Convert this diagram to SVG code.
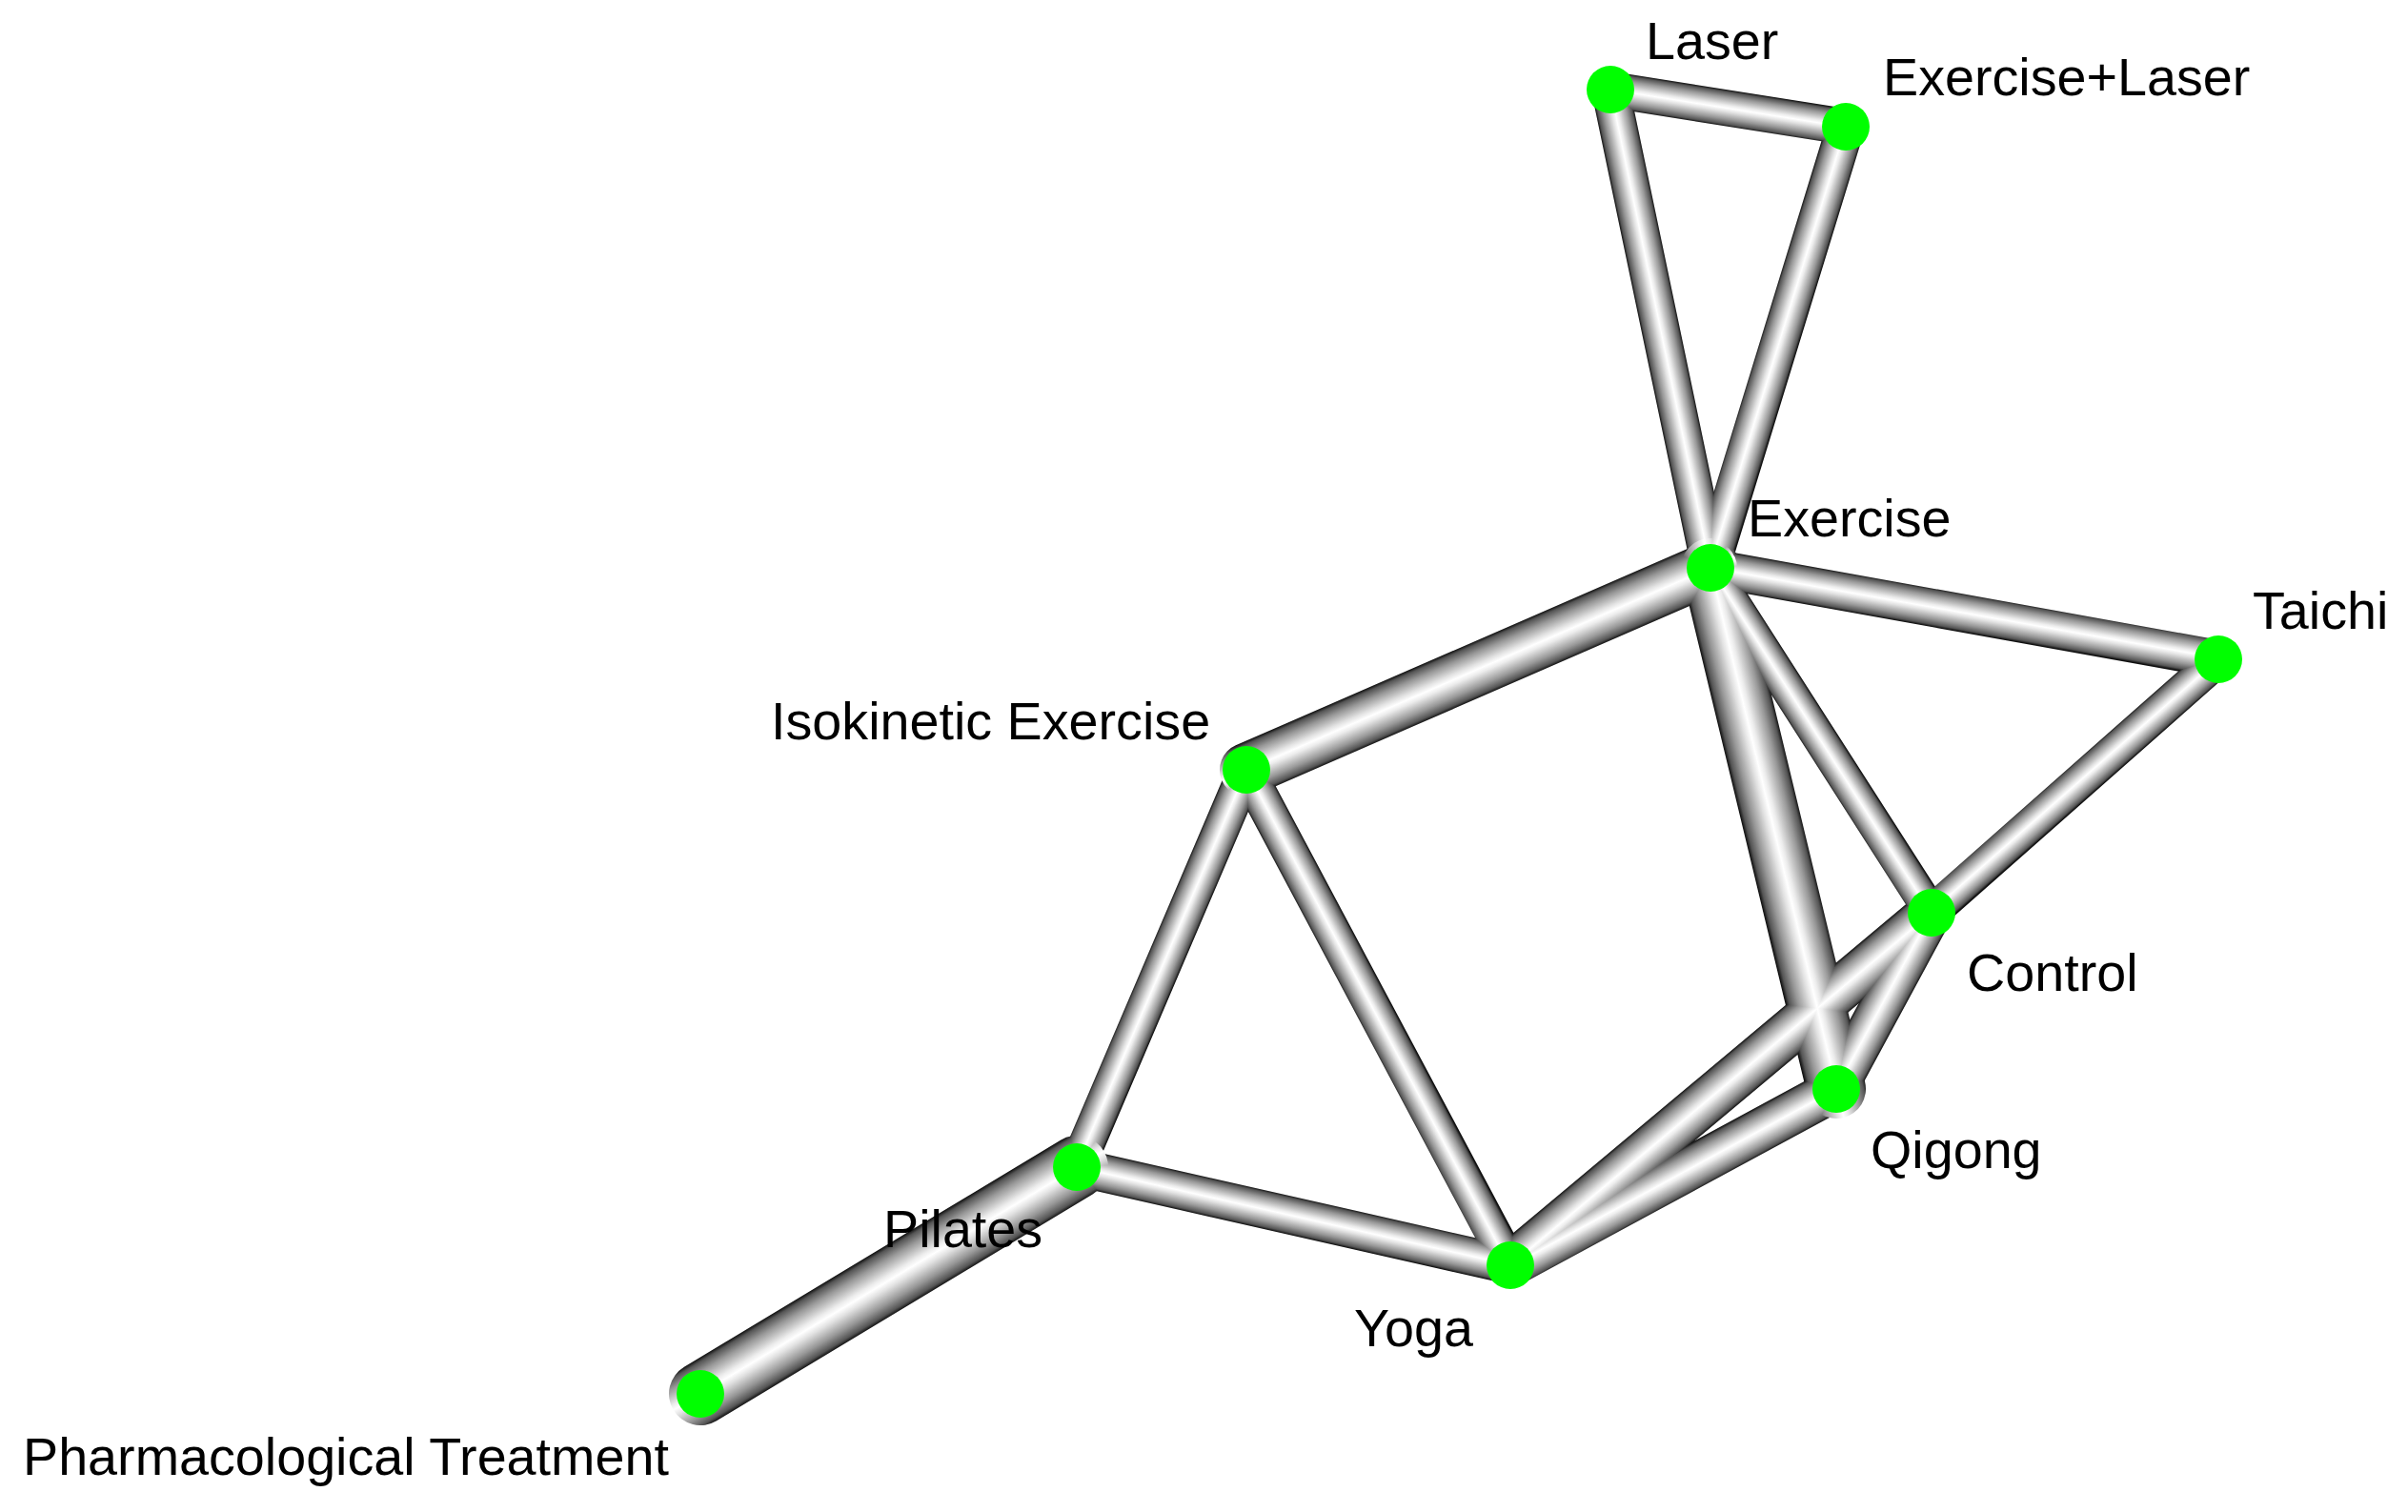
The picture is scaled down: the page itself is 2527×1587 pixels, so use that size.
<svg xmlns="http://www.w3.org/2000/svg" width="2527" height="1587" viewBox="0 0 2527 1587">
<style>
  .edge { fill: none; stroke-linecap: round; mix-blend-mode: lighten; }
  #edges { isolation: isolate; }
  .node circle { fill: #00ff00; }
  .node text { font-family: "Liberation Sans", Arial, sans-serif; font-size: 55.7px; fill: #000; }
</style>
<defs>
  <linearGradient id="tube">
    <stop offset="0" stop-color="#101010"/>
    <stop offset="0.06" stop-color="#555555"/>
    <stop offset="0.2" stop-color="#999999"/>
    <stop offset="0.42" stop-color="#ececec"/>
    <stop offset="0.5" stop-color="#ffffff"/>
    <stop offset="0.6" stop-color="#e2e2e2"/>
    <stop offset="0.8" stop-color="#979797"/>
    <stop offset="0.94" stop-color="#555555"/>
    <stop offset="1" stop-color="#101010"/>
  </linearGradient>
  <linearGradient id="g1" href="#tube" gradientUnits="userSpaceOnUse" x1="1693.0" y1="75.2" x2="1687.0" y2="112.8"/>
  <linearGradient id="g2" href="#tube" gradientUnits="userSpaceOnUse" x1="1709.6" y1="89.9" x2="1670.4" y2="98.1"/>
  <linearGradient id="g3" href="#tube" gradientUnits="userSpaceOnUse" x1="1956.1" y1="138.9" x2="1917.9" y2="127.1"/>
  <linearGradient id="g4" href="#tube" gradientUnits="userSpaceOnUse" x1="1806.2" y1="621.7" x2="1783.8" y2="570.3"/>
  <linearGradient id="g5" href="#tube" gradientUnits="userSpaceOnUse" x1="1798.5" y1="576.3" x2="1791.5" y2="615.7"/>
  <linearGradient id="g6" href="#tube" gradientUnits="userSpaceOnUse" x1="1825.1" y1="588.7" x2="1764.9" y2="603.3"/>
  <linearGradient id="g7" href="#tube" gradientUnits="userSpaceOnUse" x1="1810.2" y1="586.3" x2="1779.8" y2="605.7"/>
  <linearGradient id="g8" href="#tube" gradientUnits="userSpaceOnUse" x1="2340.2" y1="705.9" x2="2315.8" y2="678.1"/>
  <linearGradient id="g9" href="#tube" gradientUnits="userSpaceOnUse" x1="2046.4" y1="968.5" x2="2007.6" y2="947.5"/>
  <linearGradient id="g10" href="#tube" gradientUnits="userSpaceOnUse" x1="2042.4" y1="976.4" x2="2011.6" y2="939.6"/>
  <linearGradient id="g11" href="#tube" gradientUnits="userSpaceOnUse" x1="1938.0" y1="1163.2" x2="1916.0" y2="1122.8"/>
  <linearGradient id="g12" href="#tube" gradientUnits="userSpaceOnUse" x1="1325.5" y1="815.5" x2="1290.5" y2="800.5"/>
  <linearGradient id="g13" href="#tube" gradientUnits="userSpaceOnUse" x1="1324.8" y1="799.1" x2="1291.2" y2="816.9"/>
  <linearGradient id="g14" href="#tube" gradientUnits="userSpaceOnUse" x1="1134.4" y1="1205.5" x2="1125.6" y2="1244.5"/>
  <linearGradient id="g15" href="#tube" gradientUnits="userSpaceOnUse" x1="718.0" y1="1434.8" x2="752.0" y2="1491.3"/>
</defs>
<rect width="2527" height="1587" fill="#ffffff"/>
<g id="edges">
  <line class="edge" x1="1690" y1="94" x2="1937" y2="133" stroke="url(#g1)" stroke-width="38"/>
  <line class="edge" x1="1690" y1="94" x2="1795" y2="596" stroke="url(#g2)" stroke-width="40"/>
  <line class="edge" x1="1937" y1="133" x2="1795" y2="596" stroke="url(#g3)" stroke-width="40"/>
  <line class="edge" x1="1795" y1="596" x2="1308" y2="808" stroke="url(#g4)" stroke-width="56"/>
  <line class="edge" x1="1795" y1="596" x2="2328" y2="692" stroke="url(#g5)" stroke-width="40"/>
  <line class="edge" x1="1795" y1="596" x2="1927" y2="1143" stroke="url(#g6)" stroke-width="62"/>
  <line class="edge" x1="1795" y1="596" x2="2027" y2="958" stroke="url(#g7)" stroke-width="36"/>
  <line class="edge" x1="2328" y1="692" x2="2027" y2="958" stroke="url(#g8)" stroke-width="37"/>
  <line class="edge" x1="2027" y1="958" x2="1927" y2="1143" stroke="url(#g9)" stroke-width="44"/>
  <line class="edge" x1="2027" y1="958" x2="1585" y2="1328" stroke="url(#g10)" stroke-width="48"/>
  <line class="edge" x1="1927" y1="1143" x2="1585" y2="1328" stroke="url(#g11)" stroke-width="46"/>
  <line class="edge" x1="1308" y1="808" x2="1130" y2="1225" stroke="url(#g12)" stroke-width="38"/>
  <line class="edge" x1="1308" y1="808" x2="1585" y2="1328" stroke="url(#g13)" stroke-width="38"/>
  <line class="edge" x1="1130" y1="1225" x2="1585" y2="1328" stroke="url(#g14)" stroke-width="40"/>
  <line class="edge" x1="735" y1="1463" x2="1130" y2="1225" stroke="url(#g15)" stroke-width="66"/>
</g>
<g id="node-laser" class="node"><circle cx="1690" cy="94" r="25"/><text x="1727" y="62">Laser</text></g>
<g id="node-exercise-laser" class="node"><circle cx="1937" cy="133" r="25"/><text x="1976" y="100">Exercise+Laser</text></g>
<g id="node-exercise" class="node"><circle cx="1795" cy="596" r="25"/><text x="1834" y="563">Exercise</text></g>
<g id="node-taichi" class="node"><circle cx="2328" cy="692" r="25"/><text x="2364" y="660">Taichi</text></g>
<g id="node-isokinetic" class="node"><circle cx="1308" cy="808" r="25"/><text x="809" y="776">Isokinetic Exercise</text></g>
<g id="node-control" class="node"><circle cx="2027" cy="958" r="25"/><text x="2064" y="1040">Control</text></g>
<g id="node-qigong" class="node"><circle cx="1927" cy="1143" r="25"/><text x="1963" y="1226">Qigong</text></g>
<g id="node-pilates" class="node"><circle cx="1130" cy="1225" r="25"/><text x="927" y="1309">Pilates</text></g>
<g id="node-yoga" class="node"><circle cx="1585" cy="1328" r="25"/><text x="1421" y="1413">Yoga</text></g>
<g id="node-pharm" class="node"><circle cx="735" cy="1463" r="25"/><text x="24" y="1548">Pharmacological Treatment</text></g>
</svg>
